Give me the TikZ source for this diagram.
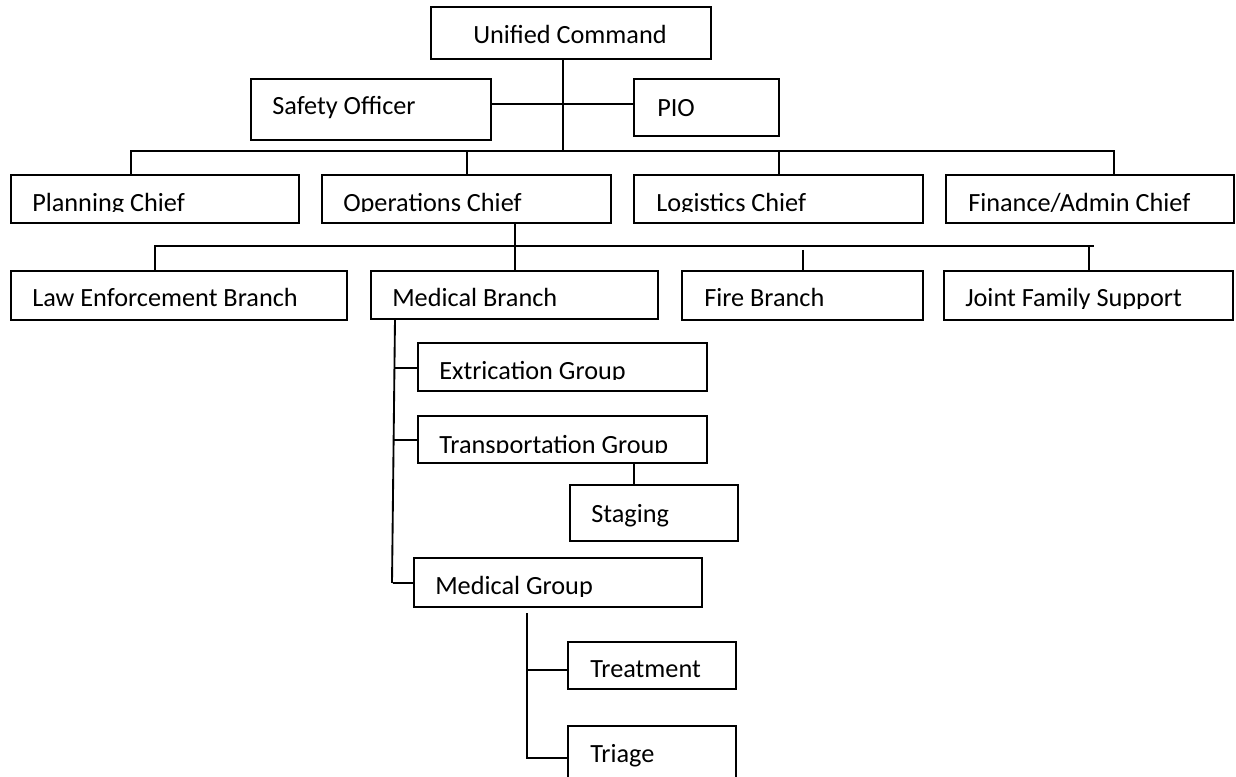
\documentclass[tikz,border=0pt]{standalone}
\usepackage{fontspec}
\setmainfont{Carlito}
% \orgnode{name}{left}{top}{width}{height}{text dx}{baseline dy}{text}
% Box outline plus a left-set label whose lower part is cut off like a text frame.
\newcommand{\orgnode}[8]{%
  \node[orgbox, minimum width=#4*0.75pt, minimum height=#5*0.75pt] (#1) at (#2,#3) {};
  \begin{scope}
    \clip (#2,#3) rectangle (#2+#4,#3+#5-11);
    \node[orgtext] (#1-t) at (#2+#6,#3+#7) {#8};
  \end{scope}}
\begin{document}
\begin{tikzpicture}[x=0.75pt,y=-0.75pt,
  orgbox/.style={draw, line width=1.4pt, anchor=north west, inner sep=0pt, outer sep=0pt, fill=white},
  orgtext/.style={anchor=base west, inner sep=0pt, font=\fontsize{19.7}{23}\selectfont},
  link/.style={line width=1.4pt}]
\fill[white] (0,0) rectangle (1236,777);
\clip (0,0) rectangle (1236,777);

% command staff
\orgnode{uc}{431}{7}{280}{52}{42}{37}{Unified Command}
\orgnode{safety}{251}{79}{240}{61}{21}{36}{Safety Officer}
\orgnode{pio}{634}{79}{145}{57}{23}{38}{PIO}

% section chiefs
\orgnode{planning}{11}{175}{288}{48}{21}{37}{Planning Chief}
\orgnode{ops}{322}{175}{289}{48}{21}{37}{Operations Chief}
\orgnode{logistics}{634}{175}{289}{48}{22}{37}{Logistics Chief}
\orgnode{finance}{946}{175}{288}{48}{22}{37}{Finance/Admin Chief}

% branches
\orgnode{law}{11}{271}{336}{49}{21}{36}{Law Enforcement Branch}
\orgnode{medbranch}{371}{271}{287}{48}{21}{36}{Medical Branch}
\orgnode{fire}{682}{271}{241}{49}{22}{36}{Fire Branch}
\orgnode{joint}{944}{271}{289}{49}{21}{36}{Joint Family Support}

% medical groups
\orgnode{extrication}{418}{343}{289}{48}{21}{37}{Extrication Group}
\orgnode{transport}{418}{416}{289}{47}{21}{37}{Transportation Group}
\orgnode{staging}{570}{485}{168}{56}{21}{37}{Staging}
\orgnode{medgroup}{414}{558}{288}{49}{21}{36}{Medical Group}
\orgnode{treatment}{568}{642}{168}{47}{22}{35}{Treatment}
\orgnode{triage}{568}{726}{168}{80}{22}{36}{Triage}

% command links
\coordinate (ucj) at (563,104);
\coordinate (bar1l) at (131,151);
\coordinate (bar1m) at (467,151);
\coordinate (bar1c) at (563,151);
\coordinate (bar1n) at (779,151);
\coordinate (bar1r) at (1114,151);
\draw[link] (uc.south -| bar1c) -- (bar1c);
\draw[link] (safety.east |- ucj) -- (pio.west |- ucj);
\draw[link] (planning.north -| bar1l) -- (bar1l) -- (bar1r) -- (finance.north -| bar1r);
\draw[link] (bar1m) -- (ops.north -| bar1m);
\draw[link] (bar1n) -- (logistics.north -| bar1n);

% operations links
\coordinate (bar2l) at (155,246);
\coordinate (bar2c) at (515,246);
\coordinate (bar2f) at (803,250);
\coordinate (bar2j) at (1089,246);
\coordinate (bar2r) at (1094,246);
\draw[link] (ops.south -| bar2c) -- (medbranch.north -| bar2c);
\draw[link] (law.north -| bar2l) -- (bar2l) -- (bar2r);
\draw[link] (bar2f) -- (fire.north -| bar2f);
\draw[link] (bar2j) -- (joint.north -| bar2j);

% medical branch spine
\coordinate (spinetop) at (395,0);
\coordinate (spinebot) at (392,583);
\draw[link] (medbranch.south -| spinetop) -- (spinebot);
\coordinate (s1) at (394,368);
\coordinate (s2) at (394,440);
\coordinate (s3) at (393,583);
\draw[link] (s1) -- (extrication.west |- s1);
\draw[link] (s2) -- (transport.west |- s2);
\draw[link] (s3) -- (medgroup.west |- s3);
\coordinate (stg) at (634,0);
\draw[link] (transport.south -| stg) -- (staging.north -| stg);

% medical group spine
\coordinate (m1) at (527,613);
\coordinate (mt) at (527,670);
\coordinate (m2) at (527,758);
\draw[link] (m1) -- (m2) -- (triage.west |- m2);
\draw[link] (mt) -- (treatment.west |- mt);
\end{tikzpicture}
\end{document}
